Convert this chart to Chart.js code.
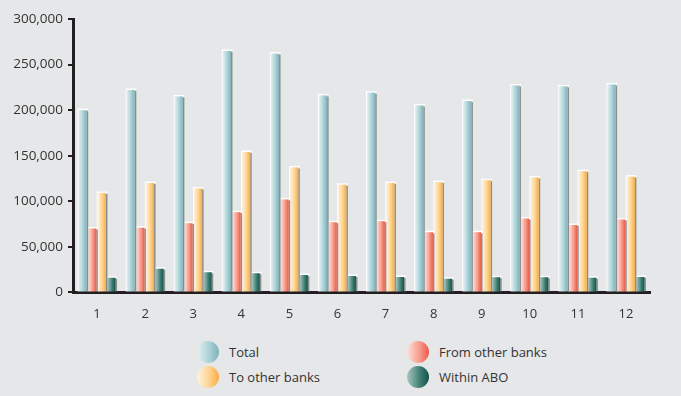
<!DOCTYPE html>
<html>
<head>
<meta charset="utf-8">
<script src="https://cdn.jsdelivr.net/npm/chart.js@4"></script>
<style>
  body { margin: 0; background: #e6e7e8; }
  #wrap { position: relative; width: 681px; height: 396px; background: #e6e7e8; }
  #chart-box { position: absolute; left: 0; top: 0; width: 681px; height: 340px; }
  .legend { position: absolute; font-family: "Open Sans", sans-serif; font-size: 13px; color: #333; }
  .legend .item { position: absolute; white-space: nowrap; height: 22px; line-height: 22px; }
  .legend .dot { position: absolute; left: 0; top: 0; width: 22px; height: 22px; border-radius: 50%; }
  .legend .txt { position: absolute; left: 32px; top: 0; }
</style>
</head>
<body>
<div id="wrap">
  <div id="chart-box"><canvas id="bar-chart"></canvas></div>
  <div class="legend" id="legend"></div>
</div>
<script>
let months = ["1", "2", "3", "4", "5", "6", "7", "8", "9", "10", "11", "12"]
let total = [200000, 222000, 215000, 265000, 262000, 216000, 219000, 205000, 210000, 227000, 226000, 228000]
let fromOther = [70000, 71000, 76000, 88000, 102000, 77000, 78000, 66000, 66000, 81000, 74000, 80000]
let toOther = [109000, 120000, 114000, 154000, 137000, 118000, 120000, 121000, 123000, 126000, 133000, 127000]
let withinAbo = [16000, 26000, 22000, 21000, 19000, 18000, 17000, 15000, 16500, 16500, 16000, 17000]
let seriesNames = ["Total", "From other banks", "To other banks", "Within ABO"]

// gradient stops (left -> right) for each series
const stops = [
  ['#e4f0f1', '#a6cfd4', '#7fb3ba'],
  ['#fde1da', '#f69786', '#ea5a48'],
  ['#fff3df', '#fdd08a', '#f9ad3e'],
  ['#a9c7c1', '#3f7d72', '#0f5449'],
]

// legend positions
const legendPos = [
  [197, 341], [407, 341], [197, 366], [407, 366]
]
const legendEl = document.getElementById("legend")
seriesNames.forEach((name, i) => {
  const item = document.createElement("div")
  item.className = "item"
  item.style.left = legendPos[i][0] + "px"
  item.style.top = legendPos[i][1] + "px"
  item.innerHTML = '<span class="dot" style="background: linear-gradient(to right, ' +
    stops[i][0] + ', ' + stops[i][1] + ' 60%, ' + stops[i][2] + ')"></span><span class="txt">' + name + '</span>'
  legendEl.appendChild(item)
})

// paint each bar with its own horizontal gradient and a thin shadow on its right
const barLook = {
  id: 'barLook',
  beforeDatasetDraw(chart, args) {
    const ctx = chart.ctx
    const meta = args.meta
    const s = stops[args.index]
    meta.data.forEach(bar => {
      const left = bar.x - bar.width / 2
      const right = bar.x + bar.width / 2
      const g = ctx.createLinearGradient(left, 0, right, 0)
      g.addColorStop(0, s[0])
      g.addColorStop(0.6, s[1])
      g.addColorStop(1, s[2])
      bar.options.backgroundColor = g
      ctx.save()
      ctx.fillStyle = '#8c8c8c'
      ctx.fillRect(right, bar.y + 1, 1.5, bar.base - bar.y - 1)
      ctx.fillStyle = '#ffffff'
      ctx.fillRect(left - 1, bar.y - 1.5, bar.width + 2.5, 1.5)
      ctx.fillRect(left - 1, bar.y - 1, 1, bar.base - bar.y + 1)
      ctx.restore()
    })
  }
}

const ctx = document.getElementById("bar-chart").getContext("2d")
const seriesData = [total, fromOther, toOther, withinAbo]

new Chart(ctx, {
  type: "bar",
  data: {
    labels: months,
    datasets: seriesNames.map((name, i) => ({
      label: name,
      data: seriesData[i],
      // scriptable so every bar gets its own options object
      backgroundColor: () => stops[i][1],
      borderWidth: 0,
      categoryPercentage: 0.8,
      barPercentage: 0.85
    }))
  },
  options: {
    responsive: true,
    maintainAspectRatio: false,
    animation: false,
    layout: {
      padding: { top: 19, right: 31, left: 0, bottom: 4 }
    },
    plugins: {
      legend: { display: false },
      tooltip: { enabled: false }
    },
    scales: {
      x: {
        grid: { display: false, drawTicks: false },
        border: { color: '#231f20', width: 3 },
        ticks: {
          color: '#333',
          padding: 14,
          font: { family: 'Open Sans', size: 13 }
        }
      },
      y: {
        min: 0,
        max: 300000,
        afterFit: scale => { scale.width = 73 },
        grid: { drawOnChartArea: false, drawTicks: true, tickLength: 5, color: '#231f20', lineWidth: 2 },
        border: { color: '#231f20', width: 3 },
        ticks: {
          stepSize: 50000,
          color: '#333',
          padding: 5,
          font: { family: 'Open Sans', size: 13.5 },
          callback: v => v.toLocaleString('en-US')
        }
      }
    }
  },
  plugins: [barLook]
})
</script>
</body>
</html>
